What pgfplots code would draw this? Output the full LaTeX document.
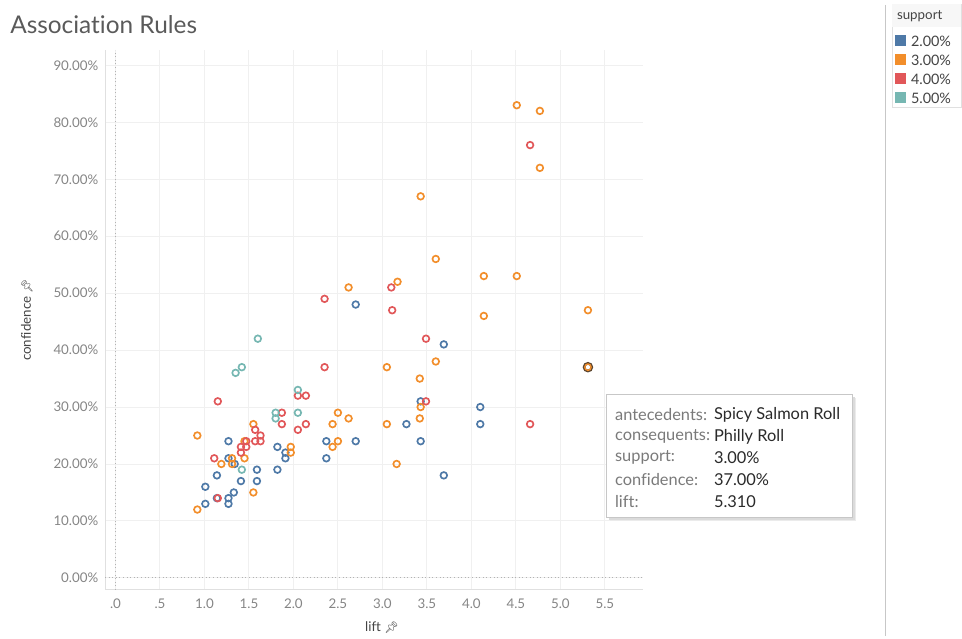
\documentclass[border=0pt]{standalone}
\usepackage{pgfplots}
\usepackage{pgfplotstable}
\pgfplotsset{compat=1.18}
\usepackage{fontspec}
\setmainfont{Lato}[Ligatures={NoCommon}]
\newfontfamily\emoji{Noto Emoji}
\definecolor{tblue}{HTML}{4E79A7}
\definecolor{torange}{HTML}{F28E2B}
\definecolor{tred}{HTML}{E15759}
\definecolor{tteal}{HTML}{76B7B2}
\definecolor{tickgray}{HTML}{858585}
\definecolor{labgray}{HTML}{444444}
\definecolor{titlegray}{HTML}{5A5A5A}
\definecolor{tipgray}{HTML}{7A7A7A}
\definecolor{tipdark}{HTML}{2A2A2A}
\definecolor{hl}{HTML}{5C4630}

\pgfplotstableread{
lift conf
1.01 16
1.01 13
1.14 18
1.14 14
1.27 24
1.27 21
1.27 14
1.27 13
1.34 20
1.33 15
1.41 17
1.59 19
1.59 17
1.82 23
1.82 19
1.91 22
1.91 21
2.37 24
2.37 21
2.70 24
2.70 48
3.27 27
3.43 31
3.43 24
3.69 41
3.69 18
4.10 30
4.10 27
}\supptwo

\pgfplotstableread{
lift conf
0.92 25
0.92 12
1.19 20
1.31 21
1.31 20
1.45 24
1.45 21
1.55 27
1.55 15
1.97 23
1.97 22
2.44 27
2.44 23
2.50 29
2.50 24
2.62 28
2.62 51
3.05 37
3.05 27
3.16 20
3.17 52
3.42 35
3.43 30
3.42 28
3.43 67
3.60 56
3.60 38
4.14 53
4.14 46
4.51 83
4.51 53
4.77 82
4.77 72
5.31 47
}\suppthree

\pgfplotstableread{
lift conf
5.31 37
}\supphl

\pgfplotstableread{
lift conf
1.11 21
1.15 31
1.15 14
1.41 23
1.41 22
1.47 23
1.47 24
1.57 26
1.57 24
1.63 25
1.63 24
1.87 29
1.87 27
2.05 32
2.05 26
2.14 32
2.14 27
2.35 49
2.35 37
3.10 51
3.11 47
3.49 42
3.49 31
4.66 76
4.66 27
}\suppfour

\pgfplotstableread{
lift conf
1.35 36
1.42 37
1.42 19
1.60 42
1.80 29
1.80 28
2.05 33
2.05 29
}\suppfive

\begin{document}
\begin{tikzpicture}
\path (0,0) rectangle (721.5pt,477pt);
\begin{axis}[
  at={(78.75pt,34.5pt)}, anchor=south west,
  width=403.5pt, height=405pt, scale only axis,
  xmin=-0.118, xmax=5.927, ymin=-2.1, ymax=92.7,
  axis x line*=bottom, axis y line*=left,
  axis line style={draw=black!12, line width=0.6pt},
  xtick={0,0.5,1,1.5,2,2.5,3,3.5,4,4.5,5,5.5},
  xticklabels={.0,.5,1.0,1.5,2.0,2.5,3.0,3.5,4.0,4.5,5.0,5.5},
  ytick={0,10,20,30,40,50,60,70,80,90},
  yticklabels={0.00\%,10.00\%,20.00\%,30.00\%,40.00\%,50.00\%,60.00\%,70.00\%,80.00\%,90.00\%},
  grid=major, major grid style={draw=black!6, line width=0.7pt},
  major tick length=0pt,
  tick label style={font=\fontsize{10}{12}\selectfont, text=tickgray},
  xticklabel style={yshift=-3pt},
  yticklabel style={xshift=-1.5pt},
  xlabel={lift {\emoji\fontsize{8.5}{8.5}\selectfont\symbol{"1F4CC}}},
  ylabel={confidence {\emoji\fontsize{8.5}{8.5}\selectfont\symbol{"1F4CC}}},
  label style={font=\fontsize{10}{12}\selectfont, text=labgray},
  xlabel style={at={(axis description cs:0.515,0)}, anchor=center, yshift=-28.5pt},
  ylabel style={at={(axis description cs:-0.145,0.5)}, anchor=center},
  mark size=2.5pt,
]
\draw[black!30, dotted, line width=0.7pt] (axis cs:0,-2.1) -- (axis cs:0,92.7);
\draw[black!30, dotted, line width=0.7pt] (axis cs:-0.118,0) -- (axis cs:5.927,0);
\addplot[only marks, mark=o, tblue, mark options={line width=1.25pt}] table[x=lift,y=conf] {\supptwo};
\addplot[only marks, mark=o, torange, mark options={line width=1.25pt}] table[x=lift,y=conf] {\suppthree};
\addplot[only marks, mark=o, tred, mark options={line width=1.25pt}] table[x=lift,y=conf] {\suppfour};
\addplot[only marks, mark=o, tteal, mark options={line width=1.25pt}] table[x=lift,y=conf] {\suppfive};
\addplot[only marks, mark=o, hl, mark size=2.9pt, mark options={line width=2pt}] table[x=lift,y=conf] {\supphl};
\addplot[only marks, mark=o, torange, mark size=2.4pt, mark options={line width=1pt}] table[x=lift,y=conf] {\supphl};
\end{axis}
\begin{scope}[x=0.75pt,y=-0.75pt,yshift=477pt]
  % title
  \node[anchor=base west, inner sep=0, font=\fontsize{18.3}{22}\selectfont, text=titlegray] at (10,34) {Association Rules};
  % separator
  \draw[black!22, line width=0.75pt] (886,5) -- (886,636);
  % legend
  \draw[black!12, fill=white] (892,4) rectangle (962,107);
  \fill[black!3] (892.5,4.5) rectangle (961.5,27);
  \node[anchor=west, inner sep=0, font=\fontsize{10}{12}\selectfont, text=labgray] at (897,16) {support};
  \fill[tblue] (895,35.5) rectangle (906,46.5);
  \fill[torange] (895,54.5) rectangle (906,65.5);
  \fill[tred] (895,73.5) rectangle (906,84.5);
  \fill[tteal] (895,92.5) rectangle (906,103.5);
  \node[anchor=west, inner sep=0, font=\fontsize{10.8}{12}\selectfont, text=labgray] at (911,41) {2.00\%};
  \node[anchor=west, inner sep=0, font=\fontsize{10.8}{12}\selectfont, text=labgray] at (911,60) {3.00\%};
  \node[anchor=west, inner sep=0, font=\fontsize{10.8}{12}\selectfont, text=labgray] at (911,79) {4.00\%};
  \node[anchor=west, inner sep=0, font=\fontsize{10.8}{12}\selectfont, text=labgray] at (911,98) {5.00\%};
  % tooltip
  \fill[black!8] (610,398) rectangle (856,521);
  \fill[black!14] (609,397) rectangle (855,520);
  \draw[black!22, fill=white, line width=0.75pt] (607,395) rectangle (853,518);
  \foreach \y/\a/\b in {415/antecedents:/Spicy Salmon Roll, 437/consequents:/Philly Roll, 458/support:/3.00\%, 480/confidence:/37.00\%, 502/lift:/5.310} {
    \node[anchor=west, inner sep=0, font=\fontsize{12.3}{14}\selectfont, text=tipgray] at (615,\y) {\a};
    \node[anchor=west, inner sep=0, font=\fontsize{12.3}{14}\selectfont, text=tipdark] at (714,\y) {\b};
  }
\end{scope}
\end{tikzpicture}
\end{document}
